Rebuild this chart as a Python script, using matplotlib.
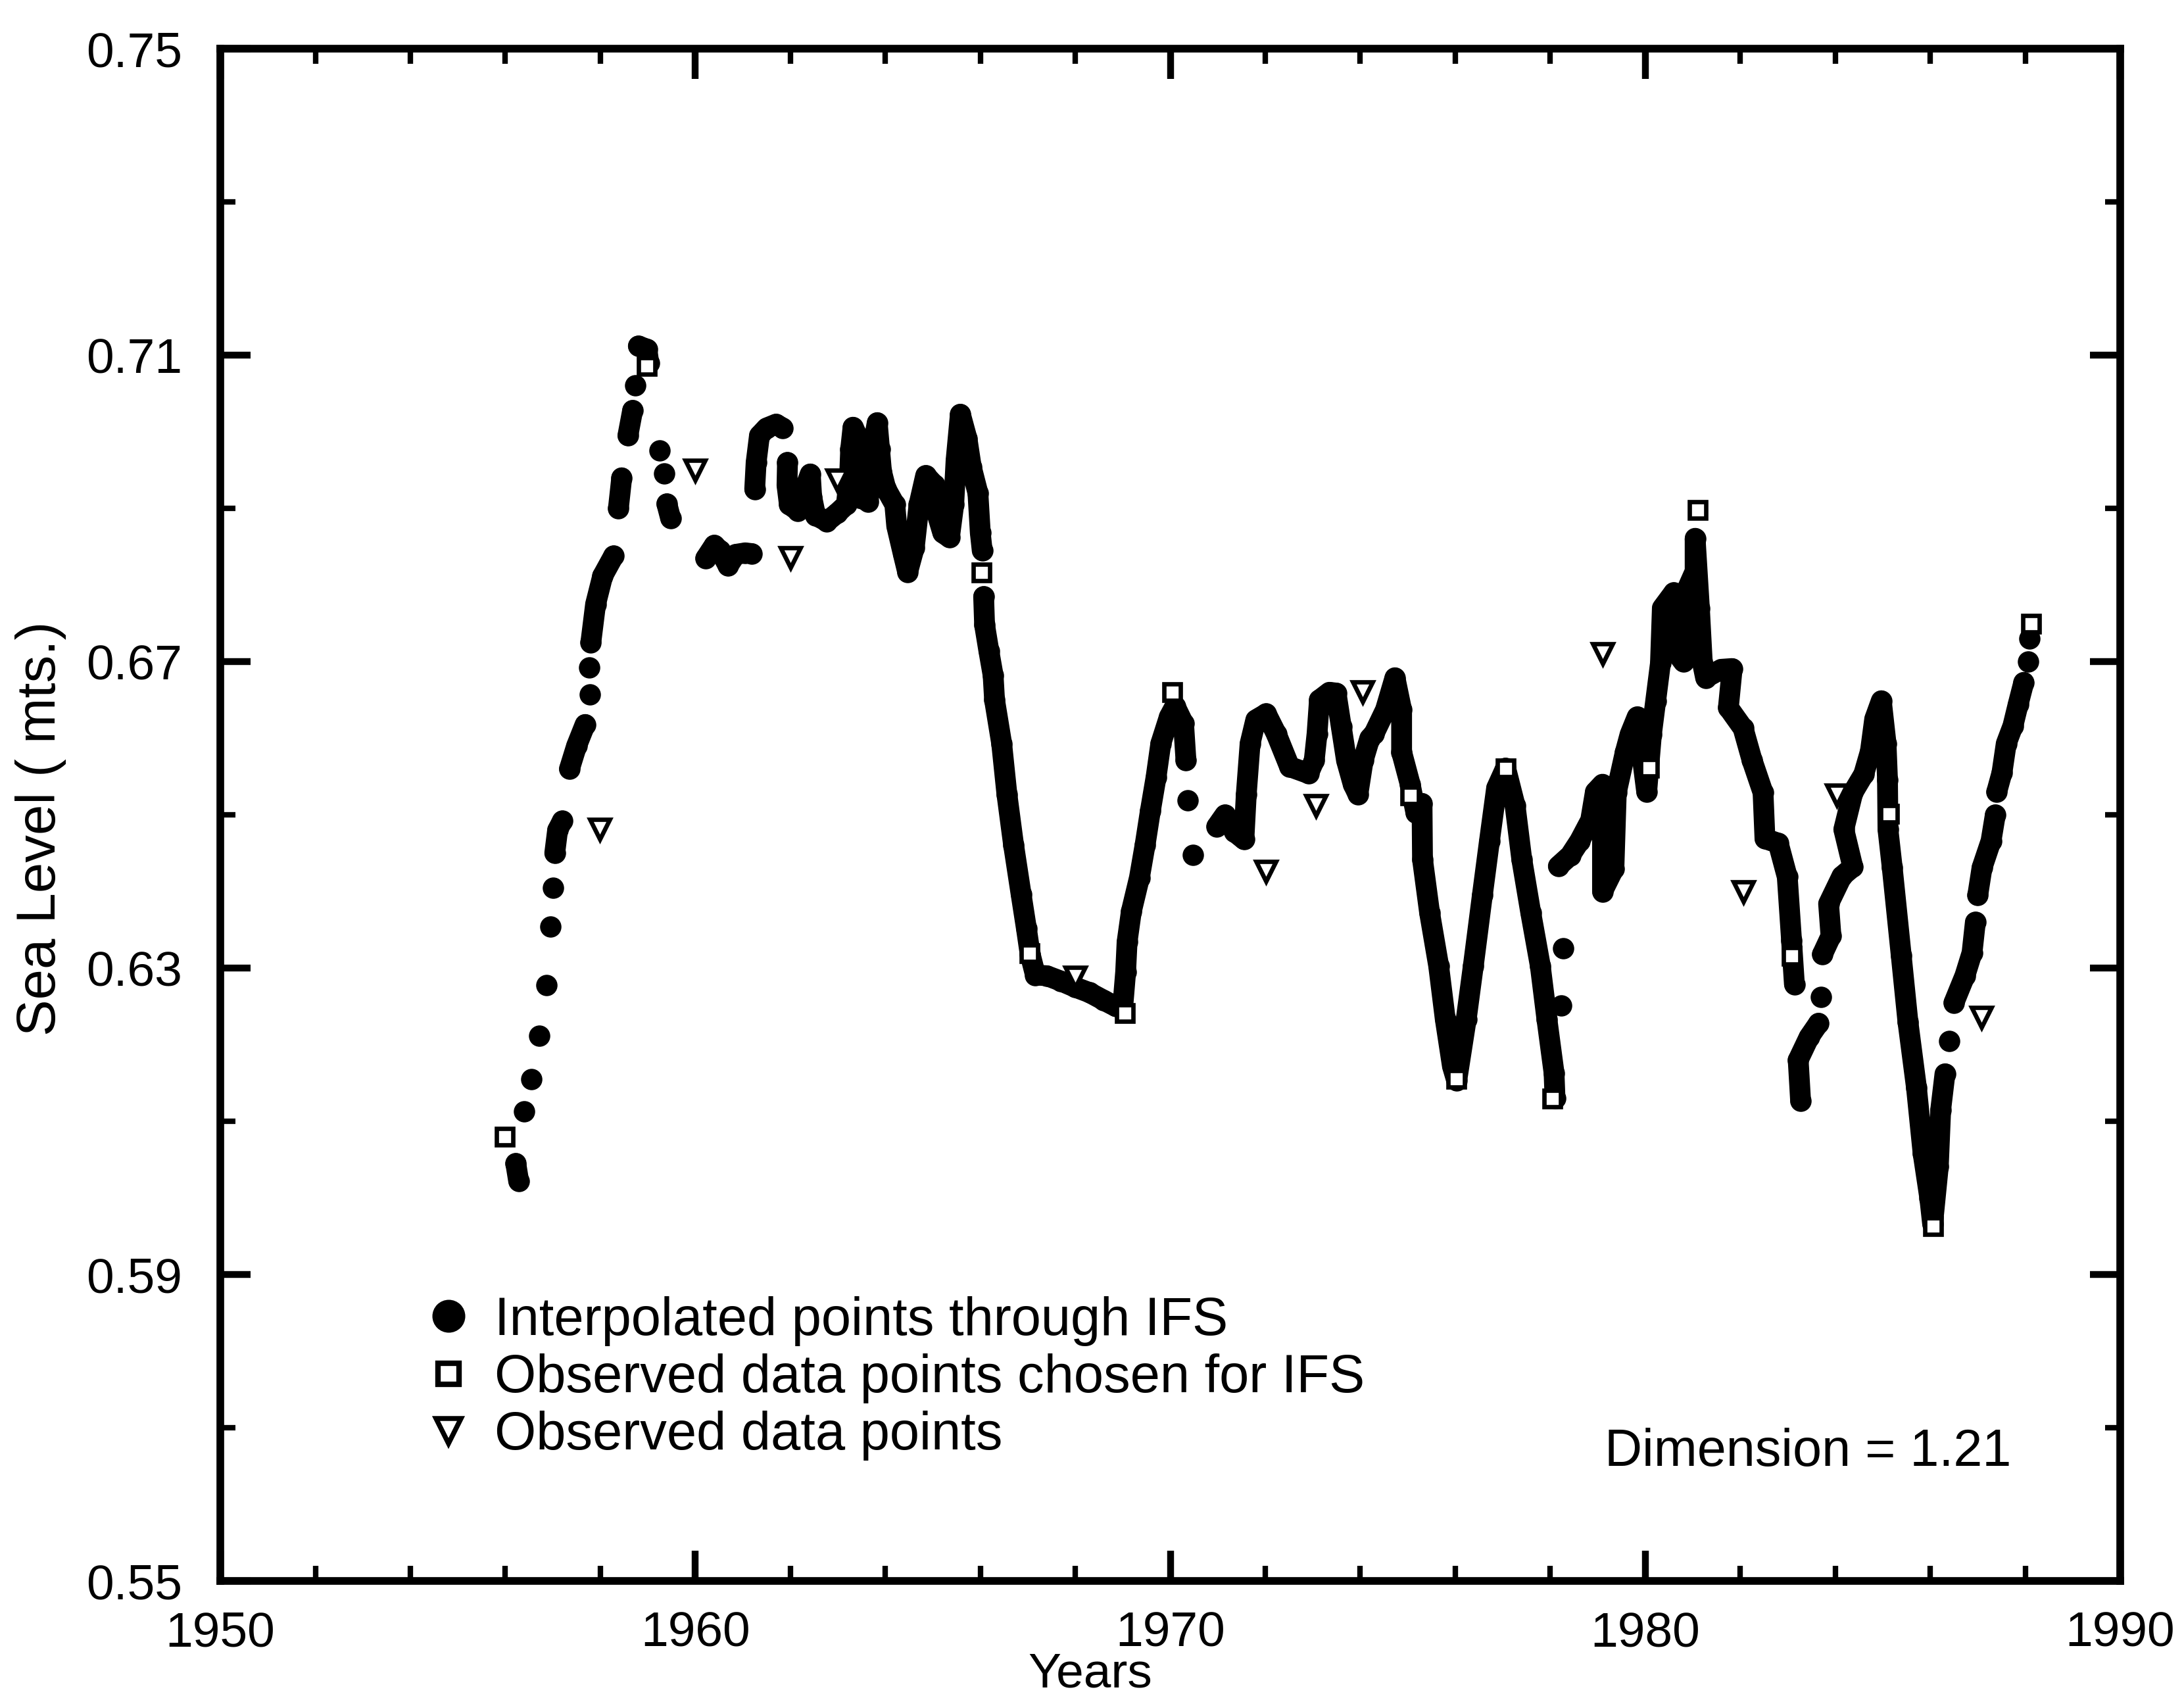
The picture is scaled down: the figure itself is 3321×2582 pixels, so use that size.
import numpy as np
import matplotlib
matplotlib.use("Agg")
import matplotlib.pyplot as plt
from matplotlib.lines import Line2D
from matplotlib.ticker import FixedLocator

plt.rcParams['font.family'] = ['Liberation Sans', 'DejaVu Sans']

gap = np.nan

# interpolated points through IFS (nan = visible break between dots)
ifs_year = [
    1956.22, 1956.28, gap, 1956.40, gap, 1956.55, gap, 1956.72, gap, 1956.86, gap,
    1956.95, gap, 1957.00, gap, 1957.04, 1957.10, 1957.20, gap,
    1957.35, 1957.50, 1957.68, gap, 1957.78, gap, 1957.76, gap,
    1957.80, 1957.90, 1958.05, 1958.28, gap, 1958.38, 1958.45, gap,
    1958.58, 1958.68, gap, 1958.73, gap, 1958.80, 1958.98, 1959.02, gap,
    1959.25, gap, 1959.35, gap, 1959.40, 1959.48, gap,
    1960.22, 1960.40, 1960.52, 1960.69, 1960.85, 1961.05, 1961.19, gap,
    1961.25, 1961.28, 1961.35, 1961.50, 1961.70, 1961.84, gap,
    1961.94, 1961.93, 1961.98, 1962.16, 1962.30, 1962.42, 1962.45, 1962.53,
    1962.77, 1962.99, 1963.18, 1963.25, 1963.27, 1963.32, 1963.45, 1963.55, 1963.46, 1963.64, 1963.70, 1963.75,
    1963.83, 1963.88, 1963.92, 1964.01, 1964.20, 1964.24,
    1964.38, 1964.47, 1964.61, 1964.71, 1964.85, 1965.03, 1965.07, 1965.21,
    1965.35, 1965.44, 1965.49, 1965.58, 1965.72, 1965.81, 1965.95, 1966.00, 1966.04, gap,
    1966.07, 1966.09, 1966.18, 1966.27, 1966.30, 1966.45, 1966.56, 1966.70,
    1966.86, 1966.97, 1967.05, 1967.16, 1967.40, 1967.70, 1968.00, 1968.30,
    1968.60, 1968.85, 1969.00, 1969.06, 1969.09, 1969.18, 1969.35, 1969.47,
    1969.58, 1969.70, 1969.80, 1969.98, 1970.10, 1970.28, 1970.33, gap,
    1970.36, gap, 1970.47, gap,
    1970.98, 1971.15, 1971.35, 1971.55, 1971.60, 1971.68, 1971.80, 1972.02,
    1972.23, 1972.51, 1972.91, 1973.03, 1973.09, 1973.14, 1973.35, 1973.49,
    1973.60, 1973.71, 1973.85, 1973.95, 1974.06, 1974.20, 1974.29, 1974.53,
    1974.73, 1974.87, 1974.87, 1975.05, 1975.17, 1975.30, 1975.31, 1975.46,
    1975.65, 1975.79, 1975.94, 1976.03, 1976.23, 1976.38, 1976.57, 1976.72,
    1976.87, 1977.06, 1977.26, 1977.40, 1977.59, 1977.79, 1977.93, 1978.08, 1978.10, gap,
    1978.23, gap, 1978.27, gap,
    1978.17, 1978.42, 1978.62, 1978.85, 1978.95, 1979.10, 1979.10, 1979.34,
    1979.39, 1979.58, 1979.68, 1979.83, 1980.03, 1980.13, 1980.22, 1980.32,
    1980.36, 1980.60, 1980.55, 1980.80, 1980.85, 1981.05, 1981.05, 1981.14, 1981.20, 1981.27,
    1981.60, 1981.83, 1981.75, 1982.06, 1982.25, 1982.48, 1982.52, 1982.80,
    1982.99, 1983.08, 1983.14, gap,
    1983.27, 1983.22, 1983.45, 1983.65, gap, 1983.70, gap,
    1983.73, 1983.91, 1983.86, 1984.14, 1984.37, 1984.18, 1984.37, 1984.60,
    1984.74, 1984.83, 1984.97, 1985.07, 1985.10, 1985.11, 1985.20, 1985.39,
    1985.53, 1985.71, 1985.85, 1985.99, 1986.05, 1986.17, 1986.22, 1986.31, gap,
    1986.40, gap, 1986.50, 1986.73, 1986.88, 1986.95, gap,
    1987.00, 1987.09, 1987.28, 1987.37, gap, 1987.40, 1987.51, 1987.60, 1987.74, 1987.85, 1987.97, gap,
    1988.06, gap, 1988.09,
]
ifs_level = [
    0.6045, 0.6022, gap, 0.6113, gap, 0.6155, gap, 0.6212, gap, 0.6278, gap,
    0.6354, gap, 0.6405, gap, 0.6450, 0.6480, 0.6492, gap,
    0.6560, 0.6590, 0.6618, gap, 0.6657, gap, 0.6692, gap,
    0.6725, 0.6775, 0.6812, 0.6838, gap, 0.6900, 0.6940, gap,
    0.6995, 0.7028, gap, 0.7061, gap, 0.7112, 0.7108, 0.7090, gap,
    0.6976, gap, 0.6946, gap, 0.6906, 0.6887, gap,
    0.6835, 0.6852, 0.6845, 0.6825, 0.6840, 0.6842, 0.6841, gap,
    0.6925, 0.6960, 0.6995, 0.7005, 0.7010, 0.7005, gap,
    0.6960, 0.6930, 0.6905, 0.6897, 0.6925, 0.6945, 0.6915, 0.6891,
    0.6883, 0.6894, 0.6905, 0.6945, 0.6977, 0.7006, 0.6990, 0.6955, 0.6914, 0.6909, 0.6950, 0.6985,
    0.7012, 0.6977, 0.6948, 0.6926, 0.6905, 0.6877,
    0.6840, 0.6817, 0.6849, 0.6905, 0.6943, 0.6931, 0.6897, 0.6868,
    0.6862, 0.6905, 0.6963, 0.7023, 0.6991, 0.6954, 0.6920, 0.6868, 0.6845, gap,
    0.6785, 0.6748, 0.6714, 0.6682, 0.6650, 0.6593, 0.6527, 0.6461,
    0.6396, 0.6352, 0.6318, 0.6291, 0.6290, 0.6283, 0.6275, 0.6268,
    0.6258, 0.6250, 0.6250, 0.6295, 0.6334, 0.6374, 0.6418, 0.6461,
    0.6505, 0.6549, 0.6593, 0.6628, 0.6642, 0.6619, 0.6571, gap,
    0.6519, gap, 0.6448, gap,
    0.6485, 0.6500, 0.6478, 0.6468, 0.6527, 0.6593, 0.6624, 0.6632,
    0.6606, 0.6563, 0.6554, 0.6571, 0.6606, 0.6650, 0.6660, 0.6659,
    0.6615, 0.6571, 0.6540, 0.6527, 0.6571, 0.6600, 0.6606, 0.6637,
    0.6679, 0.6637, 0.6582, 0.6540, 0.6503, 0.6515, 0.6442, 0.6372,
    0.6303, 0.6233, 0.6172, 0.6153, 0.6233, 0.6303, 0.6395, 0.6466,
    0.6535, 0.6561, 0.6512, 0.6442, 0.6372, 0.6303, 0.6233, 0.6163, 0.6130, gap,
    0.6251, gap, 0.6326, gap,
    0.6433, 0.6447, 0.6466, 0.6493, 0.6530, 0.6540, 0.6400, 0.6430,
    0.6529, 0.6582, 0.6605, 0.6628, 0.6530, 0.6605, 0.6649, 0.6698,
    0.6770, 0.6790, 0.6720, 0.6700, 0.6790, 0.6818, 0.6861, 0.6770, 0.6700, 0.6679,
    0.6690, 0.6691, 0.6640, 0.6613, 0.6571, 0.6529, 0.6469, 0.6463,
    0.6419, 0.6336, 0.6279, gap,
    0.6127, 0.6180, 0.6210, 0.6228, gap, 0.6262, gap,
    0.6318, 0.6342, 0.6384, 0.6420, 0.6432, 0.6481, 0.6529, 0.6553,
    0.6583, 0.6625, 0.6649, 0.6593, 0.6546, 0.6481, 0.6431, 0.6316,
    0.6230, 0.6144, 0.6058, 0.6000, 0.5966, 0.6041, 0.6115, 0.6162, gap,
    0.6205, gap, 0.6255, 0.6290, 0.6320, 0.6360, gap,
    0.6395, 0.6431, 0.6466, 0.6500, gap, 0.6530, 0.6555, 0.6593, 0.6616, 0.6644, 0.6673, gap,
    0.6700, gap, 0.6730,
]

# observed data points chosen for IFS
chosen_year = [1955.98, 1958.97, 1966.02, 1967.03, 1969.03, 1970.04, 1975.04, 1976.01,
               1977.06, 1978.03, 1980.07, 1981.10, 1983.08, 1985.13, 1986.05, 1988.11]
chosen_level = [0.6080, 0.7086, 0.6817, 0.6320, 0.6242, 0.6661, 0.6526, 0.6156,
                0.6561, 0.6130, 0.6562, 0.6898, 0.6316, 0.6502, 0.5964, 0.6750]

# other observed data points
obs_year = [1957.99, 1960.00, 1962.00, 1962.98, 1968.00, 1972.02,
            1973.06, 1974.05, 1979.10, 1982.07, 1984.03, 1987.08]
obs_level = [0.6481, 0.6950, 0.6836, 0.6937, 0.6288, 0.6426,
             0.6512, 0.6661, 0.6710, 0.6400, 0.6526, 0.6236]

x_ticks = [1950, 1960, 1970, 1980, 1990]
y_ticks = [0.55, 0.59, 0.63, 0.67, 0.71, 0.75]
y_labels = ['0.55', '0.59', '0.63', '0.67', '0.71', '0.75']

assert len(ifs_year) == len(ifs_level)

fig = plt.figure(figsize=(3321 / 300, 2582 / 300), dpi=300)
ax = fig.add_axes([0.1009, 0.0689, 0.8699, 0.9024])

ax.plot(ifs_year, ifs_level, color='black', lw=7.6, marker='o', ms=7.8, mew=0,
        solid_capstyle='round', solid_joinstyle='round', zorder=2)
ax.plot(chosen_year, chosen_level, ls='none', marker='s', ms=6.0, mfc='white',
        mec='black', mew=1.6, zorder=3)
ax.plot(obs_year, obs_level, ls='none', marker='v', ms=7.0, mfc='white',
        mec='black', mew=1.6, zorder=3)

ax.set_xlim(1950, 1990)
ax.set_ylim(0.55, 0.75)
ax.set_xticks(x_ticks)
ax.set_yticks(y_ticks)
ax.set_yticklabels(y_labels)
ax.xaxis.set_minor_locator(FixedLocator(np.arange(1950, 1991, 2)))
ax.yaxis.set_minor_locator(FixedLocator(np.arange(0.55, 0.751, 0.02)))
ax.tick_params(which='both', direction='in', top=True, right=True, labelsize=18)
ax.tick_params(which='major', length=11, width=2.5)
ax.tick_params(which='minor', length=5.5, width=2.0)
ax.tick_params(axis='x', pad=11)
ax.tick_params(axis='y', pad=14)
for s in ax.spines.values():
    s.set_linewidth(2.8)

ax.set_xlabel('Years', fontsize=18)
ax.xaxis.set_label_coords(0.458, -0.046)
ax.set_ylabel('Sea Level ( mts.)', fontsize=20)
ax.yaxis.set_label_coords(-0.081, 0.491)

handles = [
    Line2D([], [], ls='none', marker='o', ms=11, color='black'),
    Line2D([], [], ls='none', marker='s', ms=7.5, mfc='white', mec='black', mew=2),
    Line2D([], [], ls='none', marker='v', ms=9, mfc='white', mec='black', mew=1.8),
]
labels = ['Interpolated points through IFS', 'Observed data points chosen for IFS',
          'Observed data points']
ax.legend(handles, labels, loc='upper left', bbox_to_anchor=(0.1073, 0.186),
          frameon=False, fontsize=19.5, handlelength=0.9, handletextpad=0.42,
          labelspacing=0.14, borderpad=0, borderaxespad=0)

ax.text(0.9426, 0.075, 'Dimension = 1.21', transform=ax.transAxes,
        ha='right', va='baseline', fontsize=19)

fig.savefig('out.png', dpi=300)
